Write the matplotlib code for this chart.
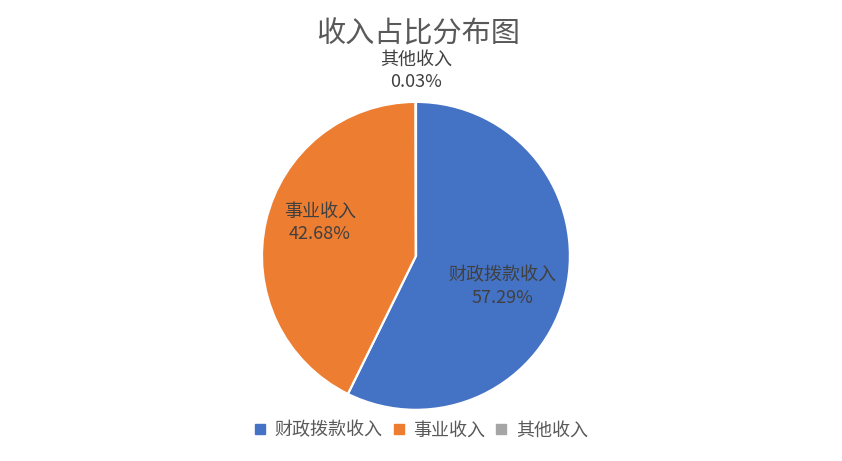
import numpy as np
import matplotlib
matplotlib.use("Agg")
import matplotlib.pyplot as plt
from matplotlib.lines import Line2D

plt.rcParams['font.family'] = ['Noto Sans CJK SC', 'DejaVu Sans']

# data
categories = ['财政拨款收入', '事业收入', '其他收入']
shares = [57.29, 42.68, 0.03]
colors = ['#4472C4', '#ED7D31', '#A5A5A5']
title = '收入占比分布图'

fig = plt.figure(figsize=(8.42, 4.61), dpi=100)
ax = fig.add_axes([0.311, 0.111, 0.366, 0.668])

wedges, _ = ax.pie(shares, colors=colors, startangle=90, counterclock=False,
                   radius=1.0, wedgeprops=dict(edgecolor='white', linewidth=1.6))
ax.set_xlim(-1, 1)
ax.set_ylim(-1, 1)
ax.set_aspect('equal')

# label placement: distance from centre per slice (in radius units)
label_dist = [0.58, 0.64, 1.2]
label_dy = [-0.07, 0.07, 0.0]
for w, name, val, d, dy in zip(wedges, categories, shares, label_dist, label_dy):
    ang = np.deg2rad((w.theta1 + w.theta2) / 2)
    x = d * np.cos(ang)
    y = d * np.sin(ang) + dy
    if name == '其他收入':
        x, y = 0.0, d
    ax.text(x, y, f'{name}\n{val:.2f}%', ha='center', va='center',
            fontsize=13, color='#404040', linespacing=1.32, clip_on=False)

fig.text(0.497, 0.925, title, ha='center', va='center', fontsize=21, color='#595959')

handles = [Line2D([], [], marker='s', linestyle='none', markersize=7,
                  markerfacecolor=c, markeredgecolor=c) for c in colors]
fig.legend(handles, categories, loc='center', bbox_to_anchor=(0.499, 0.066), ncol=3,
           frameon=False, fontsize=13, handlelength=0.8, handletextpad=0.4,
           columnspacing=0.5, labelcolor='#595959')

fig.savefig('out.png', dpi=100)
